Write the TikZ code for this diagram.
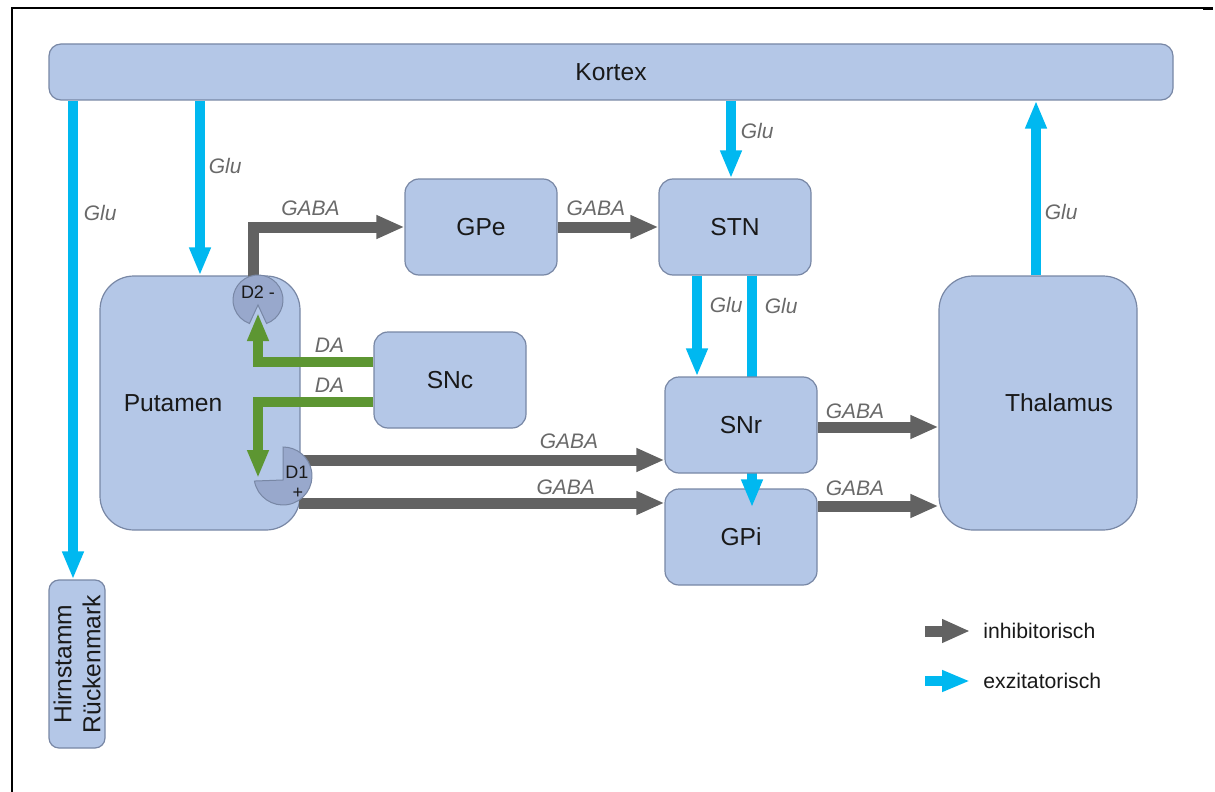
\documentclass[tikz,border=0pt]{standalone}
\usepackage{fontspec}
\setmainfont{Liberation Sans}
\usetikzlibrary{arrows.meta}

\definecolor{boxfill}{RGB}{180,199,231}
\definecolor{boxline}{RGB}{120,135,165}
\definecolor{recfill}{RGB}{152,168,204}
\definecolor{inhibgray}{RGB}{98,98,98}
\definecolor{excitcyan}{RGB}{0,184,240}
\definecolor{dagreen}{RGB}{93,150,50}
\definecolor{lblgray}{RGB}{105,105,105}

\tikzset{
  box/.style={draw=boxline, fill=boxfill, line width=0.6pt, inner sep=0pt,
    rounded corners=7pt, text=black!90,
    font=\fontsize{12.3}{14.5}\selectfont},
  recep/.style={circle, inner sep=0pt},
  recshape/.style={draw=boxline, fill=recfill, line width=0.5pt},
  rectxt/.style={inner sep=0pt, text=black!90, font=\fontsize{9}{10}\selectfont},
  lbl/.style={inner sep=1.5pt, text=lblgray,
    font=\fontsize{10.5}{12}\selectfont\itshape},
  inhib/.style={draw=inhibgray, line width=5.5pt,
    -{Triangle[length=14pt,width=11pt]}},
  excit/.style={draw=excitcyan, line width=4.8pt,
    -{Triangle[length=14pt,width=10pt]}},
  dopa/.style={draw=dagreen, line width=5pt,
    -{Triangle[length=14pt,width=10pt]}},
  legtxt/.style={inner sep=1.5pt, anchor=west, text=black!90,
    font=\fontsize{10.6}{12}\selectfont}
}

\begin{document}
\begin{tikzpicture}[x=0.5pt, y=0.5pt]
    \useasboundingbox (0,0) rectangle (1215,-792);
    \draw[line width=1pt] (12,-792) -- (12,-8) -- (1205,-8);
    \draw[line width=1.5pt] (1203,-8.5) -- (1213,-8.5);

    % areas
    \node[box, rounded corners=6pt, minimum width=562pt, minimum height=28pt]
        (kortex) at (611,-72) {Kortex};
    \node[box, rounded corners=5pt, minimum width=84pt, minimum height=28pt,
        rotate=90, align=center] (hirn) at (77,-664) {Hirnstamm\\Rückenmark};
    \node[box, rounded corners=17pt, minimum width=100pt, minimum height=127pt,
        label={[xshift=-13.5pt, text=black!90, font=\fontsize{12.3}{14}\selectfont]center:Putamen}]
        (putamen) at (200,-403) {};
    \node[box, rounded corners=17pt, minimum width=99pt, minimum height=127pt,
        label={[xshift=10.5pt, text=black!90, font=\fontsize{12.3}{14}\selectfont]center:Thalamus}]
        (thal) at (1038,-403) {};
    \node[box, minimum width=76pt, minimum height=48pt] (gpe) at (481,-227) {GPe};
    \node[box, minimum width=76pt, minimum height=48pt] (stn) at (735,-227) {STN};
    \node[box, minimum width=76pt, minimum height=48pt] (snc) at (450,-380) {SNc};
    \node[box, minimum width=76pt, minimum height=48pt] (gpi) at (741,-537) {GPi};

    % STN -> GPi runs under SNr
    \draw[excit] ([xshift=8.5pt]stn.south)
        -- node[lbl, right=2.5pt, pos=.13] {Glu} ([shift={(8.5pt,-9.5pt)}]stn.south |- gpi.north);
    \node[box, minimum width=76pt, minimum height=48pt] (snr) at (741,-425) {SNr};

    % receptors
    \node[recep, minimum size=25pt] (d2) at (258,-300) {};
    \node[recep, minimum size=28pt] (d1) at (283,-476) {};

    % glutamate
    \draw[excit] (hirn.east |- kortex.south) ++(-2pt,0) coordinate (hirnin)
        -- node[lbl, right=1.5pt, pos=.235] {Glu} (hirnin |- hirn.east);
    \draw[excit] (putamen.north |- kortex.south)
        -- node[lbl, right=0.5pt, pos=.375] {Glu} (putamen.north);
    \draw[excit] ([xshift=-2pt]stn.north |- kortex.south)
        -- node[lbl, right=1pt, pos=.39] {Glu} ([xshift=-2pt]stn.north);
    \draw[excit] ([xshift=-1pt]thal.north)
        -- node[lbl, right=0.5pt, pos=.36] {Glu} ([xshift=-1pt]thal.north |- kortex.south);
    \draw[excit] ([xshift=-19pt]stn.south)
        -- node[lbl, right=2.5pt, pos=.29] {Glu} ([xshift=-19pt]stn.south |- snr.north);

    % GABA
    \draw[inhib] ([xshift=-2.5pt]d2.center)
        |- node[lbl, above=1.5pt, pos=.69] {GABA} (gpe.west);
    \draw[inhib] (gpe.east) -- node[lbl, above=1.5pt, pos=.38] {GABA} (stn.west);
    \draw[inhib] ([yshift=8pt]d1.center)
        -- node[lbl, above=1.5pt, pos=.75] {GABA} ([yshift=8pt]d1.center -| snr.west);
    \draw[inhib] ([shift={(8pt,-13.5pt)}]d1.center)
        -- node[lbl, above=0pt, pos=.73] {GABA} ([yshift=-13.5pt]d1.center -| gpi.west);
    \draw[inhib] ([yshift=-1pt]snr.east)
        -- node[lbl, above=0pt, pos=.31] {GABA} ([yshift=-1pt]snr.east -| thal.west);
    \draw[inhib] ([yshift=15.5pt]gpi.east)
        -- node[lbl, above=1pt, pos=.31] {GABA} ([yshift=15.5pt]gpi.east -| thal.west);

    % receptor shapes
    \filldraw[recshape] ([yshift=-2.5pt]d2.center) -- ([shift={(290:12.5pt)}]d2.center)
        arc[start angle=290, end angle=610, radius=12.5pt] -- cycle;
    \node[rectxt] (d2lbl) at ([yshift=4pt]d2.center) {D2 -};
    \filldraw[recshape] ([yshift=-2pt]d1.center) -- ([shift={(190:14.5pt)}]d1.center)
        arc[start angle=190, end angle=450, radius=14.5pt] -- cycle;
    \node[rectxt] (d1lbl) at ([shift={(7pt,2pt)}]d1.center) {D1};
    \node[rectxt] (d1sign) at ([shift={(7.5pt,-8.5pt)}]d1.center) {+};

    % dopamine
    \draw[dopa] ([yshift=9pt]snc.west)
        -| node[lbl, above=1pt, pos=.19] {DA} ([yshift=-6.5pt]d2.center);
    \draw[dopa] ([yshift=-11pt]snc.west)
        -| node[lbl, above=1pt, pos=.19] {DA} ([shift={(-12.5pt,-1pt)}]d1.center);

    % legend
    \coordinate (leg1) at (925,-631);
    \node[legtxt] (leg1txt) at (980,-631) {inhibitorisch};
    \draw[inhib] (leg1) -- ([xshift=-5pt]leg1txt.west);
    \coordinate (leg2) at (925,-681);
    \node[legtxt] (leg2txt) at (980,-681) {exzitatorisch};
    \draw[excit] (leg2) -- ([xshift=-5pt]leg2txt.west);
\end{tikzpicture}
\end{document}
